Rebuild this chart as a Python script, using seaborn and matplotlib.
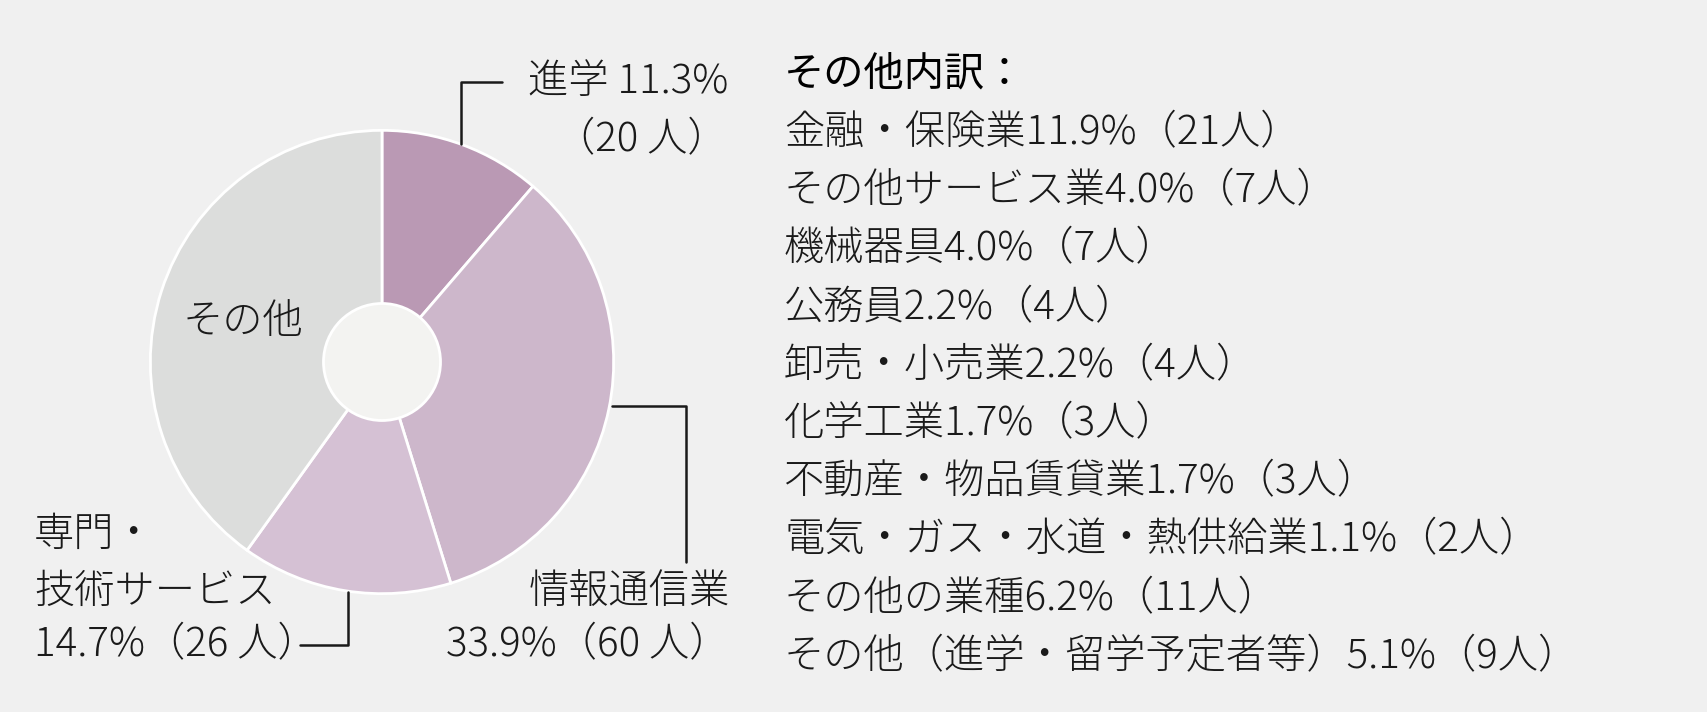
import matplotlib
matplotlib.use("Agg")
import matplotlib.pyplot as plt
from matplotlib.patches import Circle
import seaborn as sns

# main breakdown (clockwise from top)
main_labels = ["進学", "情報通信業", "専門・技術サービス", "その他"]
main_pct = [11.3, 33.9, 14.7, 40.1]
main_people = [20, 60, 26, 71]
main_colors = ["#ba99b4", "#cdb7cb", "#d5c1d4", "#dcdddc"]

# breakdown of "その他"
other_labels = ["金融・保険業", "その他サービス業", "機械器具", "公務員", "卸売・小売業",
                "化学工業", "不動産・物品賃貸業", "電気・ガス・水道・熱供給業",
                "その他の業種", "その他（進学・留学予定者等）"]
other_pct = [11.9, 4.0, 4.0, 2.2, 2.2, 1.7, 1.7, 1.1, 6.2, 5.1]
other_people = [21, 7, 7, 4, 4, 3, 3, 2, 11, 9]

sns.set_theme(style="white")
plt.rcParams['font.family'] = ['Noto Sans CJK JP', 'DejaVu Sans']
bg = "#f0f0f0"

W, H = 1707, 712
fig = plt.figure(figsize=(W / 100, H / 100), dpi=100, facecolor=bg)

# pie axes, placed in pixel box
pl, pt, pw, ph = 148, 128, 468, 468
pax = fig.add_axes([pl / W, 1 - (pt + ph) / H, pw / W, ph / H])
pax.pie(main_pct, colors=main_colors, startangle=90, counterclock=False,
        radius=0.99, wedgeprops=dict(edgecolor="white", linewidth=2))
pax.add_patch(Circle((0, 0), 0.25, facecolor="#f3f3f1", edgecolor="white", linewidth=2, zorder=5))
pax.set_xlim(-1, 1)
pax.set_ylim(-1, 1)
pax.set_aspect("equal")
pax.axis("off")

# overlay in pixel coords for labels and leaders
tax = fig.add_axes([0, 0, 1, 1], facecolor="none")
tax.set_xlim(0, W)
tax.set_ylim(H, 0)
tax.axis("off")

fs = 29
lw = 1.8
ink = "#1a1a1a"
txt = dict(fontsize=fs, color=ink, fontweight="light")

# 進学
tax.plot([461, 461, 502], [144, 82, 82], color=ink, lw=lw)
tax.text(728, 82, f"{main_labels[0]} {main_pct[0]}%", ha="right", va="center", **txt)
tax.text(728, 140, f"（{main_people[0]} 人）", ha="right", va="center", **txt)

# 情報通信業
tax.plot([612, 686, 686], [406, 406, 562], color=ink, lw=lw)
tax.text(730, 592, main_labels[1], ha="right", va="center", **txt)
tax.text(730, 645, f"{main_pct[1]}%（{main_people[1]} 人）", ha="right", va="center", **txt)

# 専門・技術サービス
tax.plot([300, 348, 348], [645, 645, 592], color=ink, lw=lw)
tax.text(34, 535, "専門・", ha="left", va="center", **txt)
tax.text(34, 592, "技術サービス", ha="left", va="center", **txt)
tax.text(34, 645, f"{main_pct[2]}%（{main_people[2]} 人）", ha="left", va="center", **txt)

# その他 inside
tax.text(243, 322, main_labels[3], ha="center", va="center", **txt)

# right list
x0, y0, dy = 784, 75, 58.2
tax.text(x0, y0, "その他内訳：", ha="left", va="center", fontsize=fs, color="#000000",
         fontweight="normal")
for i, (lab, p, n) in enumerate(zip(other_labels, other_pct, other_people)):
    tax.text(x0, y0 + dy * (i + 1), f"{lab}{p}%（{n}人）", ha="left", va="center", **txt)

fig.savefig("out.png", dpi=100, facecolor=bg)
